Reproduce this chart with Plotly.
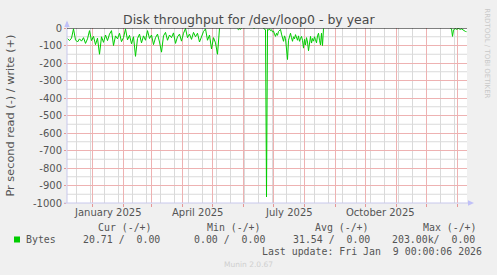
import pandas as pd
import plotly.graph_objects as go

# ---------------- data ----------------
title_text = "Disk throughput for /dev/loop0 - by year"
y_axis_title = "Pr second read (-) / write (+)"

# read throughput segments (bytes/s, plotted as negative values)
seg_starts = ["2024-12-07", "2025-05-26", "2025-06-11", "2025-06-21", "2025-12-25"]
seg_step_days = [2, 1, 1, 1, 1]
read_seg1 = [60, 72, 58, 5, 68, 80, 62, 75, 55, 88, 62, 15, 72, 48, 95, 58, 150, 50, 82, 40,
             72, 35, 15, 100, 45, 62, 30, 78, 55, 5, 68, 42, 90, 50, 162, 60, 35, 85, 45, 70,
             15, 60, 40, 95, 55, 35, 80, 138, 45, 25, 70, 40, 55, 28, 88, 50, 35, 75, 30, 3,
             55, 35, 65, 25, 50, 30, 80, 45, 20, 5, 70, 40, 120, 55, 85, 150, 3]
read_seg2 = [6, 10, 4, 8, 3]
read_seg3 = [2, 3]
read_seg4 = [3, 6, 10, 965, 8, 12, 5, 15, 10, 22, 18, 35, 48, 30, 42, 20, 12, 8, 35, 55,
             76, 45, 60, 120, 180, 70, 45, 30, 55, 76, 50, 62, 38, 58, 70, 45, 76, 60, 48, 70,
             115, 65, 97, 55, 80, 130, 70, 48, 86, 60, 75, 50, 67, 85, 45, 30, 70, 97, 30, 100, 3]
read_seg5 = [3, 5, 48, 12, 6, 4, 8, 5, 3, 6, 8, 5, 10, 14, 18, 20, 21]
read_segments = [read_seg1, read_seg2, read_seg3, read_seg4, read_seg5]

y_tick_values = [0, -100, -200, -300, -400, -500, -600, -700, -800, -900, -1000]
y_tick_labels = ["0", "-100", "-200", "-300", "-400", "-500", "-600", "-700", "-800", "-900", "-1000"]
y_minor_values = [-50, -150, -250, -350, -450, -550, -650, -750, -850, -950]
x_minor_start = "2024-12-16"
x_minor_step = "14D"
x_label_dates = ["2025-01-16", "2025-04-16", "2025-07-16", "2025-10-16"]
x_labels = ["January 2025", "April 2025", "July 2025", "October 2025"]
x_range = ["2024-12-06 12:00", "2026-01-10 12:00"]
y_range = [-1000, 0]

legend_headers = ["Cur (-/+)", "Min (-/+)", "Avg (-/+)", "Max (-/+)"]
series_name = "Bytes"
legend_values = ["20.71 /  0.00", "0.00 /  0.00", "31.54 /  0.00", "203.00k/  0.00"]
last_update = "Last update: Fri Jan  9 00:00:06 2026"
side_text = "RRDTOOL / TOBI OETIKER"
footer_text = "Munin 2.0.67"

# ---------------- layout helpers ----------------
W, H = 497, 275
L, R, T, B = 67, 467, 28, 203


def px(x):
    return (x - L) / (R - L)


def py(y):
    return (B - y) / (B - T)


def nb(s):
    return s.replace(" ", "\u00a0")


xs, ys = [], []
for start, step, vals in zip(seg_starts, seg_step_days, read_segments):
    dates = pd.Timestamp(start) + pd.to_timedelta([i * step for i in range(len(vals))], unit="D")
    xs.extend([d.strftime("%Y-%m-%d") for d in dates])
    ys.extend([-v for v in vals])
    xs.append(None)
    ys.append(None)

GREEN = "#00CC00"
RED_GRID = "rgb(238,178,178)"
GRAY_GRID = "rgb(218,218,218)"
AXIS_COL = "#C8C8EC"
TXT = "#555555"

fig = go.Figure()
fig.add_trace(go.Scatter(x=xs, y=ys, mode="lines", line=dict(color=GREEN, width=1),
                         connectgaps=False, hoverinfo="skip", showlegend=False))

fig.update_layout(
    width=W, height=H,
    margin=dict(l=L, r=W - R, t=T, b=H - B, pad=0),
    paper_bgcolor="#F0F0F0", plot_bgcolor="rgba(0,0,0,0)",
    showlegend=False,
    xaxis=dict(
        type="date", range=x_range, showticklabels=False,
        tick0="2025-01-01", dtick="M1",
        showgrid=True, gridcolor=RED_GRID, gridwidth=1,
        ticks="outside", ticklen=3, tickcolor="rgb(230,150,150)",
        showline=False, zeroline=False, fixedrange=True,
    ),
    yaxis=dict(
        range=y_range, tickmode="array", tickvals=y_tick_values, ticktext=y_tick_labels,
        tickfont=dict(family="DejaVu Sans", size=10, color=TXT),
        showgrid=True, gridcolor=RED_GRID, gridwidth=1,
        ticks="outside", ticklen=2, tickcolor="rgb(230,150,150)",
        showline=False, zeroline=False, fixedrange=True,
    ),
)

shapes = []
# white plot background drawn as the lowest shape so minor grid shapes sit on top of it
shapes.append(dict(type="rect", xref="paper", yref="paper", x0=0, x1=1, y0=0, y1=1,
                   fillcolor="#FFFFFF", line=dict(width=0), layer="below"))
# minor grid (grey), beneath the major grid
for d in pd.date_range(x_minor_start, x_range[1], freq=x_minor_step):
    shapes.append(dict(type="line", xref="x", yref="paper", x0=d.strftime("%Y-%m-%d"),
                       x1=d.strftime("%Y-%m-%d"), y0=0, y1=1,
                       line=dict(color=GRAY_GRID, width=1), layer="below"))
for v in y_minor_values:
    shapes.append(dict(type="line", xref="paper", yref="y", x0=0, x1=1, y0=v, y1=v,
                       line=dict(color=GRAY_GRID, width=1), layer="below"))
# axis lines with arrows
shapes.append(dict(type="line", xref="paper", yref="paper", x0=px(67), x1=px(67), y0=py(203), y1=py(22),
                   line=dict(color=AXIS_COL, width=1)))
shapes.append(dict(type="line", xref="paper", yref="paper", x0=px(64), x1=px(469), y0=py(203), y1=py(203),
                   line=dict(color=AXIS_COL, width=1)))
shapes.append(dict(type="path", xref="paper", yref="paper",
                   path=f"M {px(64.3)} {py(27)} L {px(69.7)} {py(27)} L {px(67)} {py(20.5)} Z",
                   fillcolor="#C0C0F8", line=dict(width=0)))
shapes.append(dict(type="path", xref="paper", yref="paper",
                   path=f"M {px(468)} {py(200.3)} L {px(468)} {py(205.7)} L {px(474)} {py(203)} Z",
                   fillcolor="#C0C0F8", line=dict(width=0)))
# zero line
shapes.append(dict(type="line", xref="paper", yref="y", x0=0, x1=1, y0=0, y1=0,
                   line=dict(color="#000000", width=1.2), layer="above"))
# legend colour box
shapes.append(dict(type="rect", xref="paper", yref="paper", x0=px(14), x1=px(20), y0=py(242.5), y1=py(236.5),
                   fillcolor=GREEN, line=dict(width=0)))
fig.update_layout(shapes=shapes)

ann = []


def text(x, y, s, size, family="DejaVu Sans", color=TXT, xanchor="left", angle=0, xref="paper"):
    ann.append(dict(x=x if xref != "paper" else px(x), y=py(y), xref=xref, yref="paper",
                    text=s, showarrow=False, xanchor=xanchor, yanchor="middle",
                    textangle=angle, borderpad=0, borderwidth=0,
                    font=dict(family=family, size=size, color=color)))


text(249, 19, title_text, 12.5, color="#4a4a4a", xanchor="center")
text(10, 115.5, y_axis_title, 11.3, xanchor="center", angle=-90)
text(486.7, 53, side_text, 7, color="#C8C8C8", xanchor="center", angle=90)
for d, lab in zip(x_label_dates, x_labels):
    text(d, 212.3, lab, 10, xanchor="center", xref="x")

MONO = "DejaVu Sans Mono"
header_x = [98.3, 206.7, 315, 422.7]
for hx, h in zip(header_x, legend_headers):
    text(hx, 227.7, nb(h), 9.9, family=MONO)
text(26, 239.3, nb(series_name), 9.9, family=MONO)
value_x = [82.7, 194.3, 292.7, 392.3]
for vx, v in zip(value_x, legend_values):
    text(vx, 239.3, nb(v), 9.9, family=MONO)
text(261.7, 251, nb(last_update), 9.9, family=MONO)
text(248, 264, footer_text, 7.5, color="#CFCFCF", xanchor="center")

fig.update_layout(annotations=ann)
fig.write_html("out.html")
